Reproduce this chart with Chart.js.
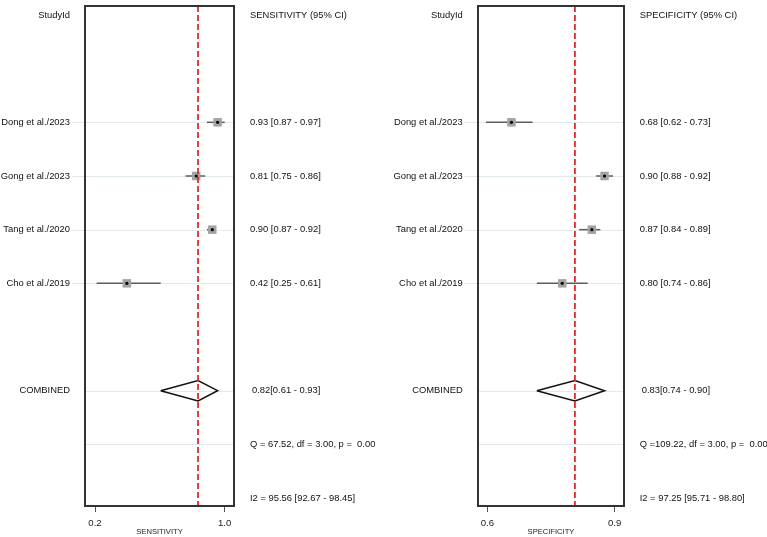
<!DOCTYPE html>
<html>
<head>
<meta charset="utf-8">
<script src="https://cdn.jsdelivr.net/npm/chart.js@4.4.1/dist/chart.umd.min.js"></script>
<style>
  html, body { margin: 0; padding: 0; background: #fff; }
  #wrap { position: relative; width: 767px; height: 537px; }
  canvas { position: absolute; top: 0; }
</style>
</head>
<body>
<div id="wrap">
  <canvas id="sensChart" width="383" height="537" style="left:0px"></canvas>
  <canvas id="specChart" width="384" height="537" style="left:383px"></canvas>
</div>
<script>
// studies and their rows (row 0 = header, rows grow downwards)
const studies = ['Dong et al./2023', 'Gong et al./2023', 'Tang et al./2020', 'Cho et al./2019'];
const studyRows = [2, 3, 4, 5];
const combinedRow = 7;
const qRow = 8;
const i2Row = 9;

// sensitivity per study
const sensEst = [0.93, 0.81, 0.90, 0.42];
const sensLo  = [0.87, 0.75, 0.87, 0.25];
const sensHi  = [0.97, 0.86, 0.92, 0.61];
const sensPooled = [0.82, 0.61, 0.93];   // estimate, lower, upper
const sensQ  = 'Q = 67.52, df = 3.00, p =  0.00';
const sensI2 = 'I2 = 95.56 [92.67 - 98.45]';
const sensTicks = [0.2, 1.0];

// specificity per study
const specEst = [0.68, 0.90, 0.87, 0.80];
const specLo  = [0.62, 0.88, 0.84, 0.74];
const specHi  = [0.73, 0.92, 0.89, 0.86];
const specPooled = [0.83, 0.74, 0.90];
const specQ  = 'Q =109.22, df = 3.00, p =  0.00';
const specI2 = 'I2 = 97.25 [95.71 - 98.80]';
const specTicks = [0.6, 0.9];

const FONT = '"Liberation Sans", Arial, sans-serif';
const Y_MIN = -0.167, Y_MAX = 9.148;

const fmt = v => v.toFixed(2);

// light row lines, the frame and all the text columns
const forestDecor = {
  id: 'forestDecor',
  beforeDatasetsDraw(chart, args, opts) {
    const ctx = chart.ctx, y = chart.scales.y, a = chart.chartArea;
    ctx.save();
    ctx.strokeStyle = '#e1e9ec';
    ctx.lineWidth = 1;
    const hline = (x0, x1, r) => {
      const py = Math.round(y.getPixelForValue(r)) + 0.5;
      ctx.beginPath(); ctx.moveTo(x0, py); ctx.lineTo(x1, py); ctx.stroke();
    };
    studyRows.forEach(r => hline(opts.labelRight + 2, a.right, r));
    [combinedRow, qRow].forEach(r => hline(a.left, a.right, r));
    ctx.restore();
  },
  afterDraw(chart, args, opts) {
    const ctx = chart.ctx, y = chart.scales.y, a = chart.chartArea;
    ctx.save();
    ctx.strokeStyle = '#333';
    ctx.lineWidth = 2;
    ctx.strokeRect(a.left, a.top, a.right - a.left, a.bottom - a.top);

    ctx.fillStyle = '#111';
    ctx.font = '9.4px ' + FONT;
    ctx.textBaseline = 'middle';
    const put = (txt, x, r, align) => {
      ctx.textAlign = align;
      ctx.fillText(txt, x, y.getPixelForValue(r));
    };
    put('StudyId', opts.labelRight, 0, 'right');
    put(opts.header, opts.textX, 0, 'left');
    studies.forEach((s, i) => {
      put(s, opts.labelRight, studyRows[i], 'right');
      put(fmt(opts.est[i]) + ' [' + fmt(opts.lo[i]) + ' - ' + fmt(opts.hi[i]) + ']', opts.textX, studyRows[i], 'left');
    });
    put('COMBINED', opts.labelRight, combinedRow, 'right');
    const p = opts.pooled;
    put(fmt(p[0]) + '[' + fmt(p[1]) + ' - ' + fmt(p[2]) + ']', opts.textX + 2, combinedRow, 'left');
    put(opts.q, opts.textX, qRow, 'left');
    put(opts.i2, opts.textX, i2Row, 'left');
    ctx.restore();
  }
};

function buildPanel(canvasId, est, lo, hi, pooled, ticks, title, header, q, i2, xRange, tickRange, pad, labelRight, textX) {
  const datasets = [];
  // pooled estimate reference line
  datasets.push({
    data: [{x: pooled[0], y: Y_MIN}, {x: pooled[0], y: Y_MAX}],
    showLine: true, borderColor: '#dc2b30', borderWidth: 1.8, borderDash: [6, 3],
    pointRadius: 0
  });
  // black centre dots
  datasets.push({
    data: est.map((v, i) => ({x: v, y: studyRows[i]})),
    pointStyle: 'circle', pointRadius: 1.6, backgroundColor: '#000', borderWidth: 0
  });
  // grey squares
  datasets.push({
    data: est.map((v, i) => ({x: v, y: studyRows[i]})),
    pointStyle: 'rect', pointRadius: 6, backgroundColor: '#a3a3a3', borderWidth: 0
  });
  // confidence interval whiskers
  est.forEach((v, i) => {
    datasets.push({
      data: [{x: lo[i], y: studyRows[i]}, {x: hi[i], y: studyRows[i]}],
      showLine: true, borderColor: '#5c5c5c', borderWidth: 1.5, pointRadius: 0
    });
  });
  // pooled diamond
  const dh = 0.19;
  datasets.push({
    data: [
      {x: pooled[1], y: combinedRow},
      {x: pooled[0], y: combinedRow - dh},
      {x: pooled[2], y: combinedRow},
      {x: pooled[0], y: combinedRow + dh},
      {x: pooled[1], y: combinedRow}
    ],
    showLine: true, borderColor: '#111', borderWidth: 1.5, pointRadius: 0, fill: false
  });

  return new Chart(document.getElementById(canvasId), {
    type: 'scatter',
    data: { datasets },
    options: {
      responsive: false,
      animation: false,
      events: [],
      layout: { padding: pad },
      plugins: {
        legend: { display: false },
        tooltip: { enabled: false },
        forestDecor: { labelRight, textX, est, lo, hi, pooled, header, q, i2 }
      },
      scales: {
        x: { type: 'linear', display: false, min: xRange[0], max: xRange[1] },
        xt: {
          type: 'linear', position: 'bottom', min: tickRange[0], max: tickRange[1],
          afterBuildTicks: axis => { axis.ticks = ticks.map(v => ({value: v})); },
          afterFit: axis => { axis.height = 31; },
          grid: { drawOnChartArea: false, drawTicks: true, tickLength: 6, tickColor: '#555', tickWidth: 1 },
          border: { display: false },
          ticks: {
            autoSkip: false, maxRotation: 0, padding: 6, color: '#222',
            font: { family: FONT, size: 9.6 },
            callback: v => v.toFixed(1)
          },
          title: {
            display: true, text: title, color: '#222',
            font: { family: FONT, size: 7.6 }, padding: { top: 0, bottom: 1 }
          }
        },
        y: { type: 'linear', display: false, reverse: true, min: Y_MIN, max: Y_MAX }
      }
    },
    plugins: [forestDecor]
  });
}

buildPanel('sensChart', sensEst, sensLo, sensHi, sensPooled, sensTicks, 'SENSITIVITY',
  'SENSITIVITY (95% CI)', sensQ, sensI2,
  [0.185, 1.022], [0.138, 1.058],
  { left: 85, right: 149, top: 3, bottom: 0 }, 70, 250);

buildPanel('specChart', specEst, specLo, specHi, specPooled, specTicks, 'SPECIFICITY',
  'SPECIFICITY (95% CI)', specQ, specI2,
  [0.601, 0.946], [0.578, 0.922],
  { left: 95, right: 143, top: 3, bottom: 0 }, 79.7, 256.7);
</script>
</body>
</html>
